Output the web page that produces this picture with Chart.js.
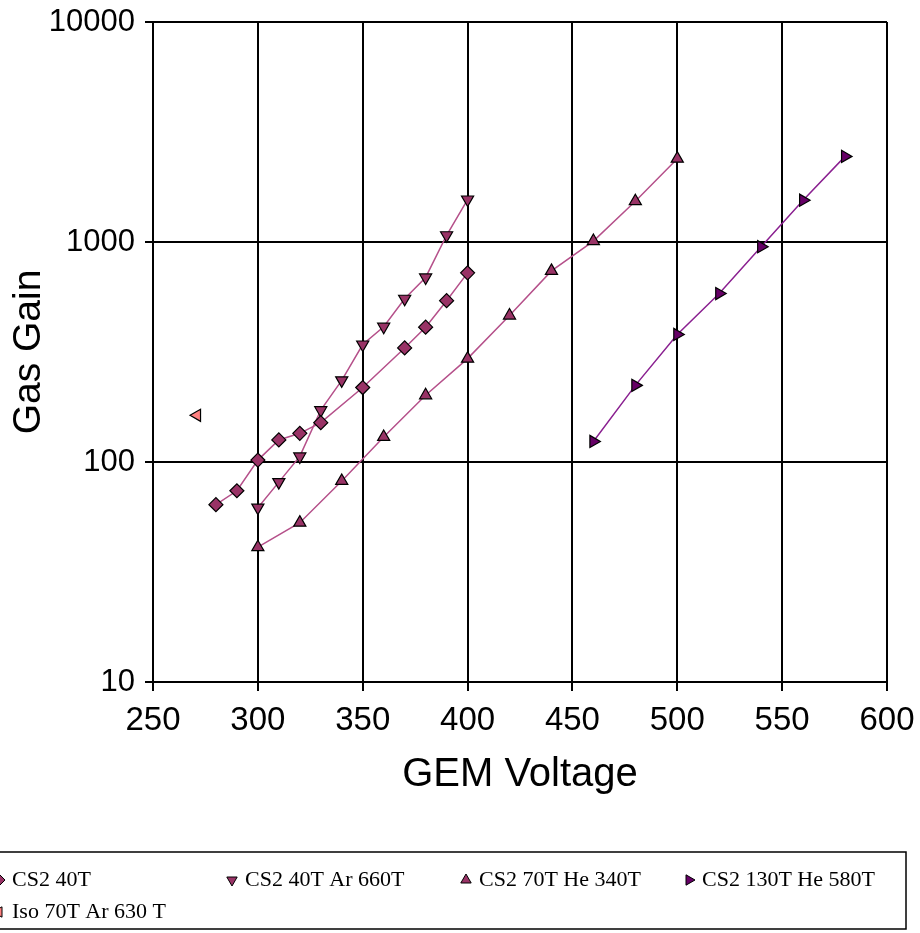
<!DOCTYPE html>
<html>
<head>
<meta charset="utf-8">
<script src="https://cdn.jsdelivr.net/npm/chart.js@4/dist/chart.umd.min.js"></script>
<style>
  html, body { margin: 0; padding: 0; background: #fff; overflow: hidden; }
  #wrap { width: 920px; height: 933px; }
</style>
</head>
<body>
<div id="wrap"><canvas id="gain-chart"></canvas></div>
<script>
// axis ticks
const voltTicks = [250, 300, 350, 400, 450, 500, 550, 600];
const gainTicks = [10, 100, 1000, 10000];

// series labels
const seriesNames = ["CS2 40T", "CS2 40T Ar 660T", "CS2 70T He 340T", "CS2 130T He 580T", "Iso 70T Ar 630 T"];

// CS2 40T
const cs2_40_volt = [280, 290, 300, 310, 320, 330, 350, 370, 380, 390, 400];
const cs2_40_gain = [64, 74, 102, 126, 135, 151, 218, 330, 410, 541, 724];

// CS2 40T Ar 660T
const ar660_volt = [300, 310, 320, 330, 340, 350, 360, 370, 380, 390, 400];
const ar660_gain = [62, 81, 106, 172, 235, 342, 412, 552, 690, 1073, 1560];

// CS2 70T He 340T
const he340_volt = [300, 320, 340, 360, 380, 400, 420, 440, 460, 480, 500];
const he340_gain = [41, 53, 82, 130, 201, 295, 463, 739, 1010, 1533, 2392];

// CS2 130T He 580T
const he580_volt = [460, 480, 500, 520, 540, 560, 580];
const he580_gain = [124, 223, 380, 583, 952, 1549, 2450];

// Iso 70T Ar 630 T
const iso_volt = [271];
const iso_gain = [163];

function pts(xs, ys) {
  return xs.map((x, i) => ({ x: x, y: ys[i] }));
}

function series(label, xs, ys, style, rot, fill, line) {
  return {
    label: label,
    data: pts(xs, ys),
    showLine: line !== null,
    borderColor: line || fill,
    borderWidth: 1.5,
    pointStyle: style,
    pointRotation: rot,
    pointRadius: 7,
    pointHoverRadius: 7,
    pointBackgroundColor: fill,
    pointBorderColor: '#000',
    pointBorderWidth: 1.2
  };
}

// hand drawn legend box at the foot, cut off on the left like the original
const boxLegend = {
  id: 'boxLegend',
  afterDraw(chart) {
    const ctx = chart.ctx;
    ctx.save();
    ctx.strokeStyle = '#000';
    ctx.lineWidth = 1.5;
    ctx.strokeRect(-2, 852, 908, 77);
    ctx.font = '22px "Liberation Serif"';
    ctx.textBaseline = 'middle';
    const slots = [[-1, 880], [232, 880], [466, 880], [689, 880], [-1, 912]];
    chart.data.datasets.forEach((ds, i) => {
      const [x, y] = slots[i];
      ctx.fillStyle = ds.pointBackgroundColor;
      ctx.strokeStyle = '#000';
      ctx.lineWidth = 1;
      Chart.helpers.drawPoint(ctx, { pointStyle: ds.pointStyle, rotation: ds.pointRotation, radius: 6, borderWidth: 1 }, x, y);
      ctx.fillStyle = '#000';
      ctx.fillText(ds.label, x + 13, y);
    });
    ctx.restore();
  }
};

new Chart(document.getElementById("gain-chart"), {
  type: 'scatter',
  data: {
    datasets: [
      series(seriesNames[0], cs2_40_volt, cs2_40_gain, 'rectRot', 0, '#993366', '#b5508a'),
      series(seriesNames[1], ar660_volt, ar660_gain, 'triangle', 180, '#993366', '#b5508a'),
      series(seriesNames[2], he340_volt, he340_gain, 'triangle', 0, '#993366', '#b5508a'),
      series(seriesNames[3], he580_volt, he580_gain, 'triangle', 90, '#660066', '#8a2090'),
      series(seriesNames[4], iso_volt, iso_gain, 'triangle', 270, '#ff8080', null)
    ]
  },
  options: {
    responsive: true,
    maintainAspectRatio: false,
    animation: false,
    devicePixelRatio: 1,
    layout: { padding: { left: 0, top: 22, right: 33, bottom: 123 } },
    plugins: {
      legend: { display: false },
      tooltip: { enabled: false }
    },
    scales: {
      x: {
        type: 'linear',
        min: 250,
        max: 600,
        afterBuildTicks: s => { s.ticks = voltTicks.map(v => ({ value: v })); },
        afterFit: s => { s.height = 128; s.paddingLeft = 0; s.paddingRight = 0; },
        grid: { color: '#000', lineWidth: 2, tickLength: 9 },
        border: { color: '#000', width: 2 },
        ticks: { color: '#000', padding: 10, maxRotation: 0, font: { family: 'Liberation Sans', size: 33 } },
        title: { display: true, text: 'GEM Voltage', color: '#000', padding: { top: 4, bottom: 11 }, font: { family: 'Liberation Sans', size: 40 } }
      },
      y: {
        type: 'logarithmic',
        min: 10,
        max: 10000,
        afterBuildTicks: s => { s.ticks = gainTicks.map(v => ({ value: v })); },
        afterFit: s => { s.width = 153; s.paddingTop = 0; s.paddingBottom = 0; },
        grid: { color: '#000', lineWidth: 2, tickLength: 8 },
        border: { color: '#000', width: 2 },
        ticks: { color: '#000', padding: 10, font: { family: 'Liberation Sans', size: 31 }, callback: v => String(v) },
        title: { display: true, text: 'Gas Gain', color: '#000', padding: { top: 6, bottom: 4 }, font: { family: 'Liberation Sans', size: 39 } }
      }
    }
  },
  plugins: [boxLegend]
});
</script>
</body>
</html>
